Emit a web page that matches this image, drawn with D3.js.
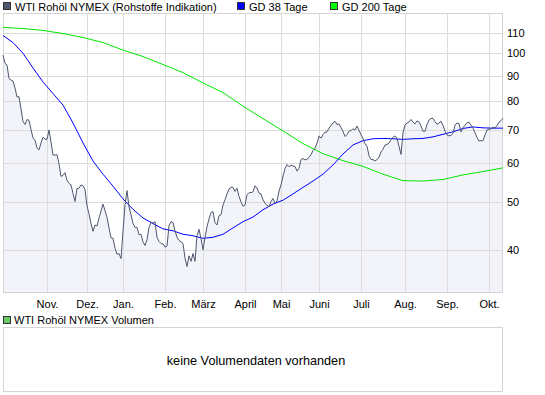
<!DOCTYPE html>
<html>
<head>
<meta charset="utf-8">
<script src="https://cdn.jsdelivr.net/npm/d3@7"></script>
<style>
body { margin: 0; background: #fff; }
svg text { font-family: "Liberation Sans", Arial, sans-serif; font-size: 11px; fill: #000; }
</style>
</head>
<body>
<svg id="chart" width="545" height="395"></svg>
<script>
// WTI daily closes, one per trading day (Oct 2008 - Oct 2009)
var price = [
    99.2, 95.4, 94.7, 88.9, 88.3, 87.9, 85.1, 81.6, 81.7, 77.2,
    72.8, 71.8, 73.5, 73.2, 70.2, 67.4, 66.8, 64.4, 63.8, 65.9,
    67.7, 67.1, 67.0, 70.0, 66.2, 62.3, 62.3, 62.4, 59.8, 56.4,
    56.7, 57.4, 55.4, 54.6, 54.2, 52.1, 50.2, 53.3, 53.4, 54.2,
    54.0, 53.1, 49.2, 47.4, 45.3, 43.7, 45.0, 44.8, 46.5, 48.0,
    49.6, 48.1, 46.6, 44.4, 42.4, 42.3, 40.4, 39.3, 39.4, 38.5,
    43.7, 49.4, 52.8, 49.0, 47.2, 45.3, 44.5, 44.5, 43.0, 43.1,
    41.6, 40.9, 42.0, 44.5, 45.6, 45.4, 45.7, 42.5, 41.7, 41.3,
    41.2, 40.6, 40.8, 44.9, 45.7, 45.5, 43.8, 42.5, 41.9, 41.6,
    41.3, 38.6, 37.1, 39.0, 38.0, 39.4, 38.0, 42.8, 44.1, 42.2,
    40.1, 42.5, 44.6, 46.3, 47.7, 47.9, 45.5, 45.0, 47.0, 47.2,
    49.4, 50.6, 52.0, 53.2, 53.6, 53.6, 52.6, 53.4, 51.4, 50.1,
    49.1, 49.4, 51.8, 52.3, 52.3, 52.5, 54.0, 53.4, 52.2, 52.0,
    50.6, 49.8, 49.3, 49.0, 50.2, 50.9, 49.8, 50.3, 52.7, 54.2,
    56.5, 58.5, 59.6, 59.0, 59.4, 59.2, 59.1, 57.8, 58.6, 61.0,
    61.3, 60.9, 61.1, 61.6, 62.4, 63.6, 64.3, 65.8, 68.1, 67.4,
    68.5, 69.3, 69.4, 70.6, 71.5, 72.3, 72.9, 71.8, 72.0, 70.8,
    69.6, 67.9, 68.5, 69.6, 69.8, 70.4, 70.0, 71.3, 69.9, 68.5,
    67.3, 65.7, 64.9, 62.1, 61.0, 61.0, 60.6, 61.0, 61.7, 63.2,
    64.0, 65.3, 65.4, 65.9, 66.9, 67.7, 68.1, 67.4, 64.9, 62.5,
    69.0, 71.6, 72.3, 72.7, 73.5, 72.6, 72.0, 73.0, 72.7, 71.3,
    69.6, 69.6, 71.8, 73.3, 73.9, 73.9, 72.7, 71.9, 72.3, 72.9,
    71.5, 69.6, 68.4, 68.1, 68.3, 68.9, 71.6, 72.3, 72.1, 69.4,
    70.8, 71.6, 72.4, 72.6, 71.6, 70.6, 69.1, 67.6, 66.5, 66.6,
    66.6, 68.4, 70.0, 70.3, 70.3, 70.9, 70.6, 71.5, 72.6, 73.1,
    73.9
];

// GD 38, read every 5th trading day
var gd38Step = 5;
var gd38 = [
    108.6, 105.1, 100.0, 93.4, 87.5, 82.9, 78.6, 72.3, 65.9, 60.6,
    57.0, 53.9, 50.8, 48.4, 46.5, 45.3, 44.2, 43.8, 43.1, 42.8,
    42.3, 42.5, 43.1, 44.4, 45.7, 46.7, 48.3, 49.6, 50.5, 52.0,
    53.6, 55.2, 57.0, 59.5, 62.6, 65.3, 66.6, 67.2, 67.3, 67.2,
    67.0, 67.2, 67.3, 67.8, 68.6, 69.4, 70.5, 71.0, 70.7, 70.6,
    70.6
];

// GD 200, read every 10th trading day
var gd200Step = 10;
var gd200 = [
    112.8, 112.2, 111.2, 109.6, 107.6, 105.1, 101.5, 98.5, 94.9, 91.4,
    87.1, 83.3, 78.2, 73.8, 69.7, 65.7, 62.7, 60.7, 59.1, 57.0,
    55.3, 55.2, 55.6, 56.8, 57.7, 58.7
];

// first trading day of each month (index into price)
var monthIdx = [22, 42, 60, 81, 100, 121, 139, 158, 179, 201, 222, 243];
var monthLabels = ['Nov.', 'Dez.', 'Jan.', 'Feb.', 'März', 'April', 'Mai', 'Juni', 'Juli', 'Aug.', 'Sep.', 'Okt.'];
var yTicks = [40, 50, 60, 70, 80, 90, 100, 110];

var legendNames = ['WTI Rohöl NYMEX (Rohstoffe Indikation)', 'GD 38 Tage', 'GD 200 Tage'];
var legendColors = ['#4e576f', '#0000ff', '#00ff00'];

var plotLeft = 3, plotRight = 503, plotTop = 13, plotBottom = 293;

var svg = d3.select('#chart');

var x = d3.scaleLinear()
    .domain([0, price.length - 1])
    .range([plotLeft, plotRight]);

var y = d3.scaleLog()
    .domain([32.8, 120.6])
    .range([plotBottom, plotTop]);

// area under the price
svg.append('path')
    .datum(price)
    .attr('fill', '#f3f4fa')
    .attr('d', d3.area()
        .x(function(d, i) { return x(i); })
        .y0(plotBottom)
        .y1(function(d) { return y(d); })
    );

// vertical grid + month labels
var xAxis = svg.append('g')
    .attr('transform', 'translate(0,' + plotBottom + ')')
    .call(d3.axisBottom(x)
        .tickValues(monthIdx)
        .tickSize(-(plotBottom - plotTop))
        .tickPadding(7)
        .tickFormat(function(d, i) { return monthLabels[i]; })
    );
xAxis.select('.domain').remove();
xAxis.selectAll('line').attr('stroke', '#dcdcdc').attr('shape-rendering', 'crispEdges');
xAxis.selectAll('text').style('font-size', '11px').attr('fill', '#000');

// horizontal grid + price labels
var yAxis = svg.append('g')
    .attr('transform', 'translate(' + plotRight + ',0)')
    .call(d3.axisRight(y)
        .tickValues(yTicks)
        .tickSize(-(plotRight - plotLeft))
        .tickPadding(4)
        .tickFormat(d3.format('d'))
    );
yAxis.select('.domain').remove();
yAxis.selectAll('line').attr('stroke', '#dcdcdc').attr('shape-rendering', 'crispEdges');
yAxis.selectAll('text').style('font-size', '11px').attr('fill', '#000');

// frame
svg.append('rect')
    .attr('x', plotLeft + 0.5).attr('y', plotTop + 0.5)
    .attr('width', plotRight - plotLeft - 1).attr('height', plotBottom - plotTop - 1)
    .attr('fill', 'none')
    .attr('stroke', '#d4d4d4');

var line = d3.line()
    .x(function(d) { return x(d[0]); })
    .y(function(d) { return y(d[1]); });

svg.append('path')
    .datum(gd200.map(function(v, i) { return [i * gd200Step, v]; }))
    .attr('fill', 'none')
    .attr('stroke', '#00e600')
    .attr('stroke-width', 1)
    .attr('d', line);

svg.append('path')
    .datum(gd38.map(function(v, i) { return [i * gd38Step, v]; }))
    .attr('fill', 'none')
    .attr('stroke', '#0000ff')
    .attr('stroke-width', 1)
    .attr('d', line);

svg.append('path')
    .datum(price.map(function(v, i) { return [i, v]; }))
    .attr('fill', 'none')
    .attr('stroke', '#4e576f')
    .attr('stroke-width', 1)
    .attr('d', line);

// top legend
var legendX = [3, 237, 330];
var legend = svg.append('g');
legendNames.forEach(function(name, i) {
    legend.append('rect')
        .attr('x', legendX[i] + 0.5).attr('y', 2.5)
        .attr('width', 7).attr('height', 7)
        .attr('fill', legendColors[i])
        .attr('stroke', '#333');
    legend.append('text')
        .attr('x', legendX[i] + 12)
        .attr('y', 10.5)
        .text(name);
});

// volume panel
svg.append('rect')
    .attr('x', 3.5).attr('y', 316.5)
    .attr('width', 7).attr('height', 7)
    .attr('fill', '#66cc66')
    .attr('stroke', '#333');
svg.append('text')
    .attr('x', 14)
    .attr('y', 324)
    .text('WTI Rohöl NYMEX Volumen');

svg.append('rect')
    .attr('x', plotLeft + 0.5).attr('y', 327.5)
    .attr('width', plotRight - plotLeft - 1).attr('height', 64)
    .attr('fill', '#fff')
    .attr('stroke', '#d4d4d4');

svg.append('text')
    .attr('x', (plotLeft + plotRight) / 2 + 3)
    .attr('y', 364.5)
    .attr('text-anchor', 'middle')
    .style('font-size', '12.7px')
    .text('keine Volumendaten vorhanden');
</script>
</body>
</html>
